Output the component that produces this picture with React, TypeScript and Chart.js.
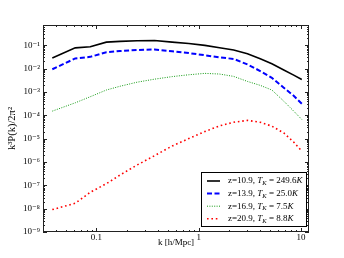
import { useEffect, useRef } from 'react';
import { Chart, registerables } from 'chart.js';

Chart.register(...registerables);

const kValues = [0.037, 0.062, 0.087, 0.125, 0.17, 0.25, 0.37, 0.55, 0.8, 1.15, 1.6, 2.2, 3.0, 4.0, 5.2, 6.8, 8.5, 10.2];
const seriesZ109 = [0.0285, 0.0766, 0.085, 0.135, 0.145, 0.155, 0.158, 0.135, 0.117, 0.098, 0.078, 0.062, 0.043, 0.026, 0.016, 0.0087, 0.0052, 0.0034];
const seriesZ139 = [0.0093, 0.027, 0.0316, 0.05, 0.056, 0.062, 0.065, 0.055, 0.046, 0.037, 0.03, 0.0257, 0.015, 0.0078, 0.004, 0.0015, 0.00068, 0.00031];
const seriesZ169 = [1.5e-4, 3.4e-4, 6.2e-4, 1.2e-3, 1.74e-3, 2.6e-3, 3.5e-3, 4.5e-3, 5.4e-3, 6.2e-3, 5.8e-3, 4.6e-3, 2.8e-3, 1.9e-3, 1.2e-3, 4.0e-4, 1.5e-4, 6.6e-5];
const seriesZ209 = [9.1e-9, 1.7e-8, 5.0e-8, 1.17e-7, 2.75e-7, 7.4e-7, 1.86e-6, 4.8e-6, 1.0e-5, 2.0e-5, 3.5e-5, 5.0e-5, 6.0e-5, 5.0e-5, 3.4e-5, 1.74e-5, 7.1e-6, 2.9e-6];

const legendZ = ['z=10.9', 'z=13.9', 'z=16.9', 'z=20.9'];
const legendTK = ['249.6', '25.0', '7.5', '8.8'];

const yTickValues = [1e-9, 1e-8, 1e-7, 1e-6, 1e-5, 1e-4, 1e-3, 1e-2, 1e-1];
const xTickValues = [0.1, 1, 10];
const xTickLabels = ['0.1', '1', '10'];

const FONT = '"Liberation Serif", "DejaVu Serif", serif';
const SUP: Record<string, string> = { '-': '\u207B', '0': '\u2070', '1': '\u00B9', '2': '\u00B2', '3': '\u00B3', '4': '\u2074', '5': '\u2075', '6': '\u2076', '7': '\u2077', '8': '\u2078', '9': '\u2079' };

const styles = [
  { color: '#000000', width: 1.6, dash: [] as number[] },
  { color: '#0000ff', width: 2, dash: [5, 2.5] },
  { color: '#119911', width: 1, dash: [1, 1.4] },
  { color: '#ff0000', width: 1.6, dash: [1.6, 2.8] },
];

const framePlugin = {
  id: 'frameTicks',
  afterDraw(chart: any) {
    const { ctx, chartArea: a, scales } = chart;
    const xs = scales.x;
    const ys = scales.y;
    ctx.save();
    ctx.strokeStyle = '#222';
    ctx.lineWidth = 1;
    const seg = (x1: number, y1: number, x2: number, y2: number) => {
      ctx.beginPath();
      ctx.moveTo(x1, y1);
      ctx.lineTo(x2, y2);
      ctx.stroke();
    };
    for (let e = -10; e <= 0; e++) {
      for (let m = 1; m <= 9; m++) {
        const v = m * Math.pow(10, e);
        if (v < ys.min || v > ys.max) continue;
        const py = Math.round(ys.getPixelForValue(v)) + 0.5;
        const len = m === 1 ? 4 : 2;
        seg(a.left, py, a.left + len, py);
        seg(a.right, py, a.right - len, py);
      }
    }
    for (let e = -2; e <= 1; e++) {
      for (let m = 1; m <= 9; m++) {
        const v = m * Math.pow(10, e);
        if (v < xs.min || v > xs.max) continue;
        const px = Math.round(xs.getPixelForValue(v)) + 0.5;
        const len = m === 1 ? 4 : 2;
        seg(px, a.bottom, px, a.bottom - len);
        seg(px, a.top, px, a.top + len);
      }
    }
    ctx.strokeRect(Math.round(a.left) + 0.5, Math.round(a.top) + 0.5, Math.round(a.right - a.left) - 1, Math.round(a.bottom - a.top) - 1);

    // legend
    const bw = 105;
    const bh = 54;
    const bx = Math.round(a.right) - 3 - bw;
    const by = Math.round(a.bottom) - 6 - bh;
    ctx.fillStyle = '#fff';
    ctx.fillRect(bx, by, bw, bh);
    ctx.strokeStyle = '#000';
    ctx.lineWidth = 1;
    ctx.strokeRect(bx + 0.5, by + 0.5, bw, bh);
    for (let i = 0; i < 4; i++) {
      const cy = by + 9 + i * 12.6;
      const st = styles[i];
      ctx.save();
      ctx.strokeStyle = st.color;
      ctx.lineWidth = st.width;
      ctx.setLineDash(st.dash);
      seg(bx + 6, cy, bx + 19, cy);
      ctx.restore();
      ctx.fillStyle = '#000';
      ctx.textBaseline = 'middle';
      ctx.textAlign = 'left';
      let x = bx + 27;
      const run = (t: string, italic: boolean, size: number, dy: number) => {
        ctx.font = `${italic ? 'italic ' : ''}${size}px ${FONT}`;
        ctx.fillText(t, x, cy + dy);
        x += ctx.measureText(t).width;
      };
      run(legendZ[i] + ', ', false, 9, 0);
      run('T', true, 9, 0);
      run('K', true, 6.5, 2.5);
      run(' = ' + legendTK[i], false, 9, 0);
      run('K', true, 9, 0);
    }
    ctx.restore();
  },
};

export default function App() {
  const ref = useRef<HTMLCanvasElement | null>(null);
  useEffect(() => {
    if (!ref.current) return;
    const series = [seriesZ109, seriesZ139, seriesZ169, seriesZ209];
    const chart = new Chart(ref.current, {
      type: 'line',
      data: {
        datasets: series.map((s, i) => ({
          label: legendZ[i],
          data: kValues.map((k, j) => ({ x: k, y: s[j] })),
          borderColor: styles[i].color,
          borderWidth: styles[i].width,
          borderDash: styles[i].dash,
          pointRadius: 0,
          fill: false,
          tension: 0,
        })),
      },
      options: {
        responsive: false,
        animation: false,
        layout: { padding: { left: 0, right: 35, top: 25, bottom: 0 } },
        plugins: { legend: { display: false }, tooltip: { enabled: false } },
        scales: {
          x: {
            type: 'logarithmic',
            min: 0.03,
            max: 12,
            grid: { display: false, drawTicks: false },
            border: { display: false },
            afterBuildTicks: (scale: any) => {
              scale.ticks = xTickValues.map((v) => ({ value: v }));
            },
            afterFit: (scale: any) => {
              scale.height = 26;
            },
            ticks: {
              autoSkip: false,
              maxRotation: 0,
              padding: 0,
              color: '#000',
              font: { family: FONT, size: 9 },
              callback: (v: any) => {
                const idx = xTickValues.findIndex((t) => Math.abs(t - Number(v)) < 1e-9);
                return idx >= 0 ? xTickLabels[idx] : '';
              },
            },
            title: {
              display: true,
              text: 'k [h/Mpc]',
              color: '#000',
              font: { family: FONT, size: 9 },
              padding: { top: 0, bottom: 10 },
            },
          },
          y: {
            type: 'logarithmic',
            min: 1e-9,
            max: 0.73,
            grid: { display: false, drawTicks: false },
            border: { display: false },
            afterBuildTicks: (scale: any) => {
              scale.ticks = yTickValues.map((v) => ({ value: v }));
            },
            afterFit: (scale: any) => {
              scale.width = 43;
            },
            ticks: {
              autoSkip: false,
              padding: 3,
              color: '#000',
              font: { family: FONT, size: 9 },
              callback: (v: any) => {
                const e = String(Math.round(Math.log10(Number(v))));
                return '10' + e.split('').map((c) => SUP[c] ?? c).join('');
              },
            },
            title: {
              display: true,
              text: 'k\u00B3P(k)/2\u03C0\u00B2',
              color: '#000',
              font: { family: FONT, size: 10.5 },
              padding: { top: 6, bottom: 0 },
            },
          },
        },
      },
      plugins: [framePlugin],
    } as any);
    return () => chart.destroy();
  }, []);
  return (
    <div style={{ position: 'fixed', left: 0, top: 0, width: 344, height: 258, background: '#fff' }}>
      <canvas ref={ref} width={344} height={258} style={{ width: 344, height: 258, display: 'block' }} />
    </div>
  );
}
